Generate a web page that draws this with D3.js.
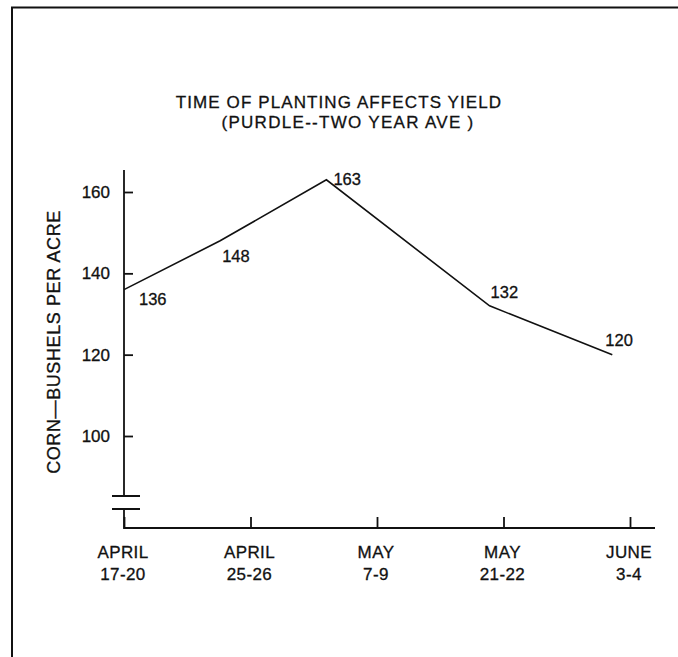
<!DOCTYPE html>
<html>
<head>
<meta charset="utf-8">
<script src="https://cdn.jsdelivr.net/npm/d3@7"></script>
<style>
   body { margin: 0; background: #fff; }
   figure { margin: 0; }
   svg text { font-family: "Liberation Sans", Arial, sans-serif; fill: #111; stroke: #111; stroke-width: 0.3px; }
</style>
</head>
<body>
<figure></figure>
<script>
// Planting dates, evenly spaced along the bottom axis
let dateMonths = ["APRIL", "APRIL", "MAY", "MAY", "JUNE"];
let dateDays = ["17-20", "25-26", "7-9", "21-22", "3-4"];

// Yield for each planting, and where the point sits along the date axis
let yields = [136, 148, 163, 132, 120];
let yieldPos = [0, 0.76, 1.6, 2.89, 3.86];

// Left axis ticks
let yTicks = [100, 120, 140, 160];

let titleLines = ["TIME OF PLANTING AFFECTS YIELD", "(PURDLE--TWO YEAR AVE )"];
let yTitle = "CORN—BUSHELS PER ACRE";

// How far each value label is nudged from its point
let labelShift = [[15, 15], [2, 21], [7, 5], [1, -8], [-7, -9]];
// Title lines are not quite centred on each other in the scan
let titleCentre = [339, 348];


let width = 678, height = 657;
let axisX = 124, axisY = 528;

let svg = d3.select("figure")
   .append("svg")
   .attr("width", width)
   .attr("height", height);

svg.append("rect")
   .attr("width", width)
   .attr("height", height)
   .attr("fill", "#fff");

// Page frame: only the top and left edges show in the scan
svg.append("path")
   .attr("d", "M12," + height + "V7.5H" + width)
   .attr("fill", "none")
   .attr("stroke", "#111")
   .attr("stroke-width", 2);

let x = d3.scaleLinear()
   .domain([0, dateMonths.length - 1])
   .range([axisX, 630]);
let y = d3.scaleLinear()
   .domain([100, 160])
   .range([436, 192]);

// Title
svg.selectAll(".title")
   .data(titleLines)
   .enter()
   .append("text")
   .attr("class", "title")
   .attr("x", function(d, i) { return titleCentre[i]; })
   .attr("y", function(d, i) { return 108 + i * 20; })
   .attr("text-anchor", "middle")
   .style("font-size", "17px")
   .style("letter-spacing", function(d, i) { return i ? "1.3px" : "1.1px"; })
   .text(function(d) { return d; });

// Y axis title
svg.append("text")
   .attr("transform", "translate(60," + 342 + ") rotate(-90)")
   .attr("text-anchor", "middle")
   .style("font-size", "18px")
   .style("letter-spacing", "0.6px")
   .text(yTitle);

// Left axis with ticks pointing inwards
let yAxis = svg.append("g")
   .attr("transform", "translate(" + axisX + ",0)")
   .call(d3.axisLeft(y)
      .tickValues(yTicks)
      .tickSizeInner(-9)
      .tickSizeOuter(0)
      .tickPadding(14));
yAxis.select(".domain").remove();
yAxis.selectAll("line").attr("stroke", "#111").attr("stroke-width", 1.8);
yAxis.selectAll("text")
   .style("font-size", "17px")
   .style("font-family", "'Liberation Sans', Arial, sans-serif")
   .attr("fill", "#111");

// Axis line with a break below 100
let breakTop = y(100) + 60, breakBottom = breakTop + 13;
svg.append("line")
   .attr("x1", axisX).attr("x2", axisX)
   .attr("y1", y(160) - 22).attr("y2", breakTop)
   .attr("stroke", "#111").attr("stroke-width", 1.8);
svg.append("line")
   .attr("x1", axisX).attr("x2", axisX)
   .attr("y1", breakBottom).attr("y2", axisY + 1)
   .attr("stroke", "#111").attr("stroke-width", 1.8);
svg.selectAll(".break")
   .data([breakTop, breakBottom])
   .enter()
   .append("line")
   .attr("class", "break")
   .attr("x1", axisX - 12).attr("x2", axisX + 16)
   .attr("y1", function(d) { return d; })
   .attr("y2", function(d) { return d; })
   .attr("stroke", "#111").attr("stroke-width", 2);

// Bottom axis: ticks pointing up, two line labels
let xAxis = svg.append("g")
   .attr("transform", "translate(0," + axisY + ")")
   .call(d3.axisBottom(x)
      .tickValues(d3.range(dateMonths.length))
      .tickSizeInner(-11)
      .tickSizeOuter(0)
      .tickFormat(""));
xAxis.select(".domain").remove();
xAxis.selectAll("line").attr("stroke", "#111").attr("stroke-width", 1.8);
xAxis.append("line")
   .attr("x1", axisX).attr("x2", 655)
   .attr("stroke", "#111").attr("stroke-width", 2);

let dateLabel = xAxis.selectAll(".date")
   .data(dateMonths)
   .enter()
   .append("text")
   .attr("class", "date")
   .attr("text-anchor", "middle")
   .style("font-size", "17px")
   .style("letter-spacing", "0.4px");
dateLabel.append("tspan")
   .attr("x", function(d, i) { return x(i) - 1; })
   .attr("y", 30)
   .text(function(d) { return d; });
dateLabel.append("tspan")
   .attr("x", function(d, i) { return x(i) - 1; })
   .attr("y", 52)
   .text(function(d, i) { return dateDays[i]; });

// Yield line
let line = d3.line()
   .x(function(d, i) { return x(yieldPos[i]); })
   .y(function(d) { return y(d); });

svg.append("path")
   .datum(yields)
   .attr("d", line)
   .attr("fill", "none")
   .attr("stroke", "#111")
   .attr("stroke-width", 1.6);

// Value labels next to each point
svg.selectAll(".value")
   .data(yields)
   .enter()
   .append("text")
   .attr("class", "value")
   .attr("x", function(d, i) { return x(yieldPos[i]) + labelShift[i][0]; })
   .attr("y", function(d, i) { return y(d) + labelShift[i][1]; })
   .style("font-size", "16.5px")
   .text(function(d) { return d; });
</script>
</body>
</html>
